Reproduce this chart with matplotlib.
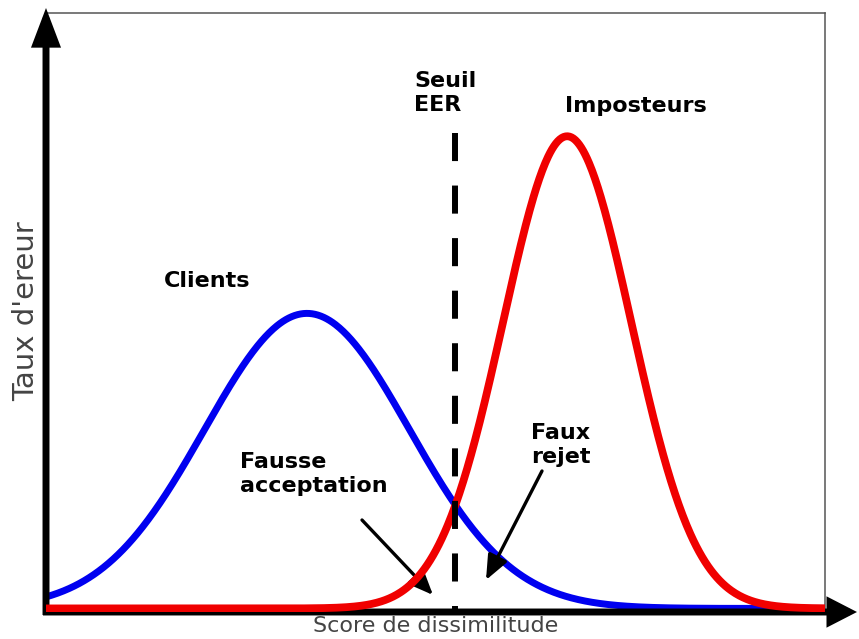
import numpy as np
import matplotlib
matplotlib.use('Agg')
import matplotlib.pyplot as plt

# ---- data ----
x_limits = (0.0, 10.0)
y_limits = (-0.006, 1.0)
client_mean, client_sigma, client_peak = 3.35, 1.315, 0.4955
impostor_mean, impostor_sigma, impostor_peak = 6.69, 0.823, 0.793
eer_threshold = 5.25
eer_line_top = 0.798

labels_curves = ["Clients", "Imposteurs"]
label_threshold = "Seuil\nEER"
label_fa = "Fausse\nacceptation"
label_fr = "Faux\nrejet"
xlabel = "Score de dissimilitude"
ylabel = "Taux d'ereur"

W, H = 859, 639
fig = plt.figure(figsize=(W / 100, H / 100), dpi=100)
fig.patch.set_facecolor('white')

L, R, T, B = 46, 825, 13, 612
ax = fig.add_axes([L / W, 1 - B / H, (R - L) / W, (B - T) / H])
ax.set_xlim(*x_limits)
ax.set_ylim(*y_limits)
ax.set_xticks([])
ax.set_yticks([])
for s in ['left', 'bottom']:
    ax.spines[s].set_visible(False)
for s in ['top', 'right']:
    ax.spines[s].set_color('#555555')
    ax.spines[s].set_linewidth(1.1)

x = np.linspace(x_limits[0], x_limits[1], 800)
client = client_peak * np.exp(-0.5 * ((x - client_mean) / client_sigma) ** 2)
impostor = impostor_peak * np.exp(-0.5 * ((x - impostor_mean) / impostor_sigma) ** 2)

ax.plot(x, client, color='#0000f0', lw=5, solid_capstyle='butt', zorder=3)
ax.plot(x, impostor, color='#f00000', lw=5.6, solid_capstyle='butt', zorder=4)
ax.plot([eer_threshold, eer_threshold], [eer_line_top, y_limits[0]], color='black',
        lw=4.3, dashes=(4.7, 4.1), dash_capstyle='butt', zorder=5)


def fp(px, py):
    return (px / W, 1 - py / H)


# axis arrows (figure pixels)
ax.annotate('', xy=(46, H - 8), xytext=(46, H - 615), xycoords='figure pixels',
            textcoords='figure pixels',
            arrowprops=dict(arrowstyle='-|>,head_length=0.95,head_width=0.36', lw=5,
                            color='black', shrinkA=0, shrinkB=0, mutation_scale=20,
                            joinstyle='miter', capstyle='butt'),
            annotation_clip=False)
ax.annotate('', xy=(857, H - 612), xytext=(43, H - 612), xycoords='figure pixels',
            textcoords='figure pixels',
            arrowprops=dict(arrowstyle='-|>,head_length=0.7,head_width=0.36', lw=5,
                            color='black', shrinkA=0, shrinkB=0, mutation_scale=20,
                            joinstyle='miter', capstyle='butt'),
            annotation_clip=False)

# annotation arrows
arrow_kw = dict(arrowstyle='-|>,head_length=1.0,head_width=0.42', lw=2.4, color='black',
                shrinkA=0, shrinkB=0, mutation_scale=15)
ax.annotate('', xy=(433, H - 595), xytext=(362, H - 520), xycoords='figure pixels',
            textcoords='figure pixels', arrowprops=arrow_kw, annotation_clip=False)
ax.annotate('', xy=(486, H - 580), xytext=(542, H - 471), xycoords='figure pixels',
            textcoords='figure pixels', arrowprops=arrow_kw, annotation_clip=False)

bold = dict(fontsize=16, fontweight='bold', color='black', family='DejaVu Sans')
fig.text(*fp(207, 281), labels_curves[0], ha='center', va='center', **bold)
fig.text(*fp(636, 106), labels_curves[1], ha='center', va='center', **bold)
fig.text(*fp(414, 93), label_threshold, ha='left', va='center', **bold)
fig.text(*fp(240, 474), label_fa, ha='left', va='center', **bold)
fig.text(*fp(531, 445), label_fr, ha='left', va='center', **bold)

fig.text(*fp(436, 626), xlabel, ha='center', va='center', fontsize=16, color='#444444')
fig.text(*fp(26, 311), ylabel, ha='center', va='center', rotation=90, fontsize=21,
         color='#444444')

fig.savefig('out.png', dpi=100, facecolor='white')
